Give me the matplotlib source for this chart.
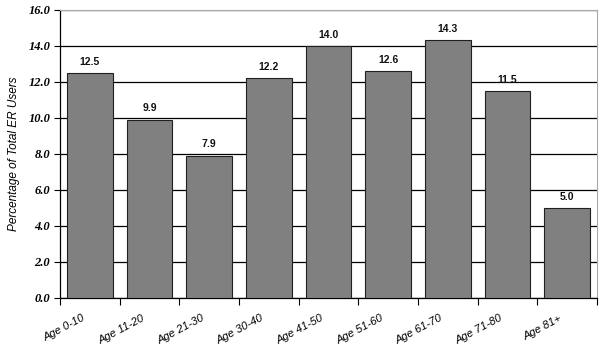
import numpy as np
import matplotlib
matplotlib.use("Agg")
import matplotlib.pyplot as plt
import matplotlib.transforms as mtransforms

# Age groups and share of ER users (%)
categories = ["Age 0-10", "Age 11-20", "Age 21-30", "Age 30-40", "Age 41-50",
              "Age 51-60", "Age 61-70", "Age 71-80", "Age 81+"]
values = [12.5, 9.9, 7.9, 12.2, 14.0, 12.6, 14.3, 11.5, 5.0]
yticks = [0, 2, 4, 6, 8, 10, 12, 14, 16]

fig = plt.figure(figsize=(6.01, 3.53), dpi=100)
ax = fig.add_axes([0.0998, 0.156, 0.8935, 0.816])

x = np.arange(len(categories))
bars = ax.bar(x, values, width=0.77, color="#808080", edgecolor="#202020",
              linewidth=0.8, zorder=3)

# value labels above the bars
for xi, v in zip(x, values):
    ax.text(xi, v + 0.35, f"{v:.1f}", ha="center", va="bottom",
            fontsize=7.5, fontweight="bold", family="Liberation Sans", color="#111111")

ax.set_xlim(-0.5, len(categories) - 0.5)
ax.set_ylim(0, 16)
ax.set_yticks(yticks)
ax.set_yticklabels([f"{t:.1f}" for t in yticks], family="Liberation Serif",
                   fontweight="bold", style="italic", fontsize=9)
ax.yaxis.grid(True, color="black", linewidth=0.9, zorder=0)
ax.set_axisbelow(True)

# tick marks at category boundaries, labels at centres
ax.set_xticks(x)
ax.set_xticklabels(categories, rotation=28, ha="right", rotation_mode="anchor",
                   family="Liberation Sans", style="italic", fontsize=8)
ax.tick_params(axis="x", which="major", length=0, pad=11)
ax.set_xticks(np.arange(len(categories) + 1) - 0.5, minor=True)
ax.tick_params(axis="x", which="minor", length=5, width=0.8)
ax.tick_params(axis="y", length=4, width=0.8, pad=3)

# nudge the slanted labels left like the original
shift = mtransforms.ScaledTranslation(-8 / 100, 0, fig.dpi_scale_trans)
for lbl in ax.get_xticklabels():
    lbl.set_transform(lbl.get_transform() + shift)

ax.set_ylabel("Percentage of Total ER Users", family="Liberation Sans",
              style="italic", fontsize=8.5, labelpad=6)

for s in ["top", "right"]:
    ax.spines[s].set_color("#aaaaaa")
for s in ["left", "bottom"]:
    ax.spines[s].set_color("black")
    ax.spines[s].set_linewidth(0.9)

fig.savefig("out.png", dpi=100)
